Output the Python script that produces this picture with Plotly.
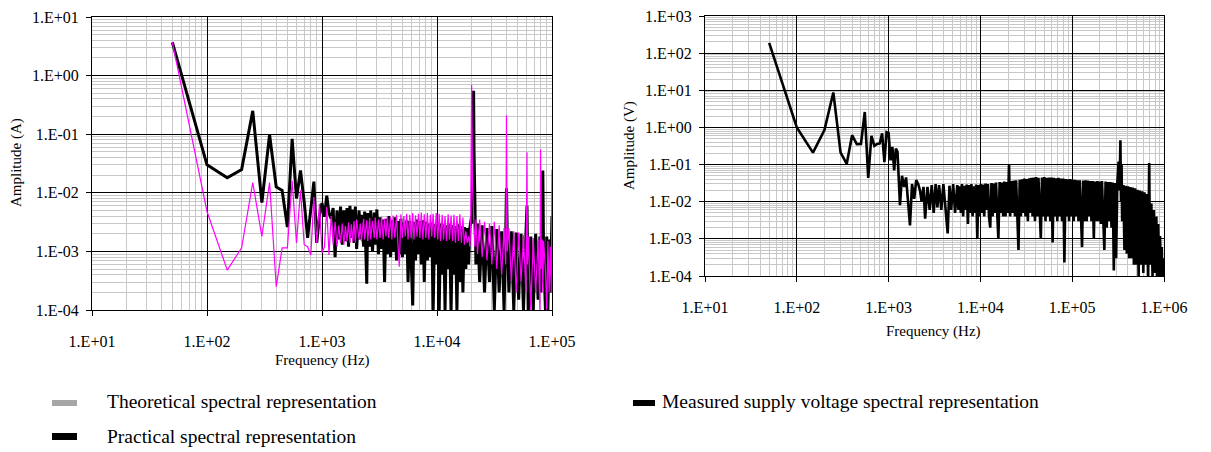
import plotly.graph_objects as go

# ---------------- data ----------------
# low-frequency harmonics (Hz), shared by both charts
low_freq = [50, 100, 150, 200, 250, 300, 350, 400, 450, 500,
            550, 600, 650, 700, 750, 800, 850, 900, 950, 1000,
            1050, 1100, 1150, 1200]

practical_low = [3.7, 0.030, 0.018, 0.025, 0.25, 0.0068, 0.098, 0.0126, 0.011, 0.0026,
                 0.083, 0.008, 0.024, 0.007, 0.0017, 0.006, 0.0155, 0.0014, 0.004, 0.0067,
                 0.0039, 0.0089, 0.0045, 0.0036]

theoretical_low = [3.7, 0.0048, 0.00048, 0.00115, 0.015, 0.0018, 0.015, 0.00025, 0.00115, 0.00115,
                   0.016, 0.0014, 0.011, 0.0013, 0.0012, 0.00087, 0.0085, 0.0014, 0.0065, 0.00095,
                   0.0012, 0.0058, 0.00087, 0.004]

measured_low = [190, 1.0, 0.21, 0.85, 8.7, 0.21, 0.105, 0.62, 0.355, 0.36,
                2.6, 0.044, 0.59, 0.32, 0.36, 0.37, 0.69, 0.117, 0.74, 0.7,
                0.13, 0.3, 0.07, 0.27]

# left chart, higher frequencies (Hz)
left_hi_freq = [1250, 1300, 1350, 1400, 1450, 1500, 1550, 1600, 1650, 1700,
                1750, 1800, 1850, 1900, 1950, 2000, 2100, 2150, 2200, 2300,
                2350, 2450, 2500, 2600, 2650, 2750, 2850, 2900, 3000, 3100,
                3200, 3300, 3400, 3500, 3600, 3700, 3800, 3950, 4050, 4150,
                4300, 4450, 4550, 4700, 4850, 5000, 5150, 5300, 5450, 5600,
                5800, 5950, 6150, 6300, 6500, 6700, 6900, 7100, 7300, 7550,
                7750, 8000, 8250, 8500, 8750, 9000, 9250, 9550, 9850, 10150,
                10450, 10750, 11100, 11400, 11750, 12100, 12500, 12850, 13250, 13650,
                14050, 14450, 14900, 15350, 15800, 16300, 16800, 17300, 17800, 18300,
                18850, 19300, 19600, 20000, 20400, 20800, 21000, 21300, 21800, 22500,
                23500, 24700, 25900, 27200, 28600, 30000, 31500, 33100, 34700, 36500,
                38300, 39600, 40200, 40800, 42200, 44300, 46500, 48800, 51300, 53800,
                56500, 59300, 60600, 61200, 62300, 65400, 68700, 72100, 75700, 78500,
                79500, 80500, 82300, 83200, 84500, 87700, 90000, 92100, 94500, 96700,
                98500, 100000]

practical_hi = [0.0055, 0.0008, 0.005, 0.0016, 0.0058, 0.0013, 0.005, 0.0015, 0.0055, 0.0012,
                0.006, 0.0017, 0.0052, 0.0014, 0.0058, 0.0011, 0.005, 0.0016, 0.0042, 0.0012,
                0.0048, 0.00028, 0.0045, 0.0012, 0.005, 0.001, 0.0046, 0.0013, 0.0052, 0.0009,
                0.0038, 0.0011, 0.0035, 0.0003, 0.0036, 0.0009, 0.004, 0.0008, 0.0034, 0.001,
                0.0038, 0.0007, 0.0033, 0.0009, 0.0036, 0.0008, 0.0031, 0.0009, 0.0034, 0.0003,
                0.0033, 0.0008, 0.00012, 0.0032, 0.0007, 0.0035, 0.0009, 0.0033, 0.0006, 0.0034,
                0.0003, 0.0032, 0.0007, 0.003, 0.0008, 0.0031, 0.00009, 0.0029, 0.0006, 0.0031,
                0.0001, 0.003, 0.0004, 0.0029, 0.0001, 0.0028, 0.0005, 0.003, 0.00009, 0.0028,
                0.0004, 0.0027, 0.0001, 0.0029, 0.0003, 0.0027, 0.0002, 0.0026, 0.0005, 0.0025,
                0.0006, 0.0025, 0.003, 0.004, 0.003, 0.55, 0.05, 0.004, 0.0006, 0.003,
                0.0003, 0.0028, 0.0002, 0.0025, 0.0003, 0.0027, 0.0001, 0.0024, 0.0002, 0.0022,
                0.0001, 0.002, 0.012, 0.002, 0.0002, 0.0022, 0.0001, 0.0021, 0.00015, 0.002,
                0.0001, 0.0019, 0.006, 0.0012, 0.0001, 0.0018, 0.0001, 0.002, 0.00015, 0.0018,
                0.0002, 0.0015, 0.0003, 0.024, 0.0009, 0.0001, 0.0018, 0.0001, 0.0016, 0.0002,
                0.0015, 0.004]

theoretical_hi = [0.0013, 0.0032, 0.0012, 0.0028, 0.0014, 0.003, 0.0013, 0.0027, 0.0015, 0.0031,
                  0.0014, 0.0029, 0.0015, 0.0033, 0.0014, 0.0035, 0.0016, 0.003, 0.0015, 0.0036,
                  0.0016, 0.0034, 0.0015, 0.0037, 0.0016, 0.0033, 0.0017, 0.0038, 0.0016, 0.0035,
                  0.0017, 0.0039, 0.0016, 0.0036, 0.0018, 0.004, 0.0017, 0.0038, 0.0016, 0.0041,
                  0.0017, 0.0042, 0.0016, 0.00055, 0.0043, 0.0017, 0.004, 0.0018, 0.0044, 0.0016,
                  0.0042, 0.0017, 0.0045, 0.0016, 0.0041, 0.0018, 0.0044, 0.0017, 0.0046, 0.0016,
                  0.0043, 0.0017, 0.0045, 0.0016, 0.0042, 0.0018, 0.0044, 0.0017, 0.0045, 0.0016,
                  0.0044, 0.0015, 0.0042, 0.0016, 0.004, 0.0015, 0.0043, 0.0016, 0.0041, 0.0015,
                  0.0042, 0.0014, 0.004, 0.0015, 0.0043, 0.0014, 0.0038, 0.0013, 0.0022, 0.0014,
                  0.0018, 0.0012, 0.0025, 0.70, 0.012, 0.004, 0.0035, 0.0012, 0.0035, 0.0009,
                  0.0035, 0.0008, 0.0032, 0.0007, 0.003, 0.0006, 0.0032, 0.0005, 0.0028, 0.0004,
                  0.0025, 0.0006, 0.21, 0.001, 0.0025, 0.0003, 0.0022, 0.0002, 0.0021, 0.0003,
                  0.0019, 0.0002, 0.049, 0.0006, 0.0018, 0.0001, 0.0017, 0.0002, 0.0016, 0.0001,
                  0.055, 0.0005, 0.0016, 0.0002, 0.0015, 0.0005, 0.0001, 0.0015, 0.0002, 0.0012,
                  0.0002, 0.025]

# right chart, higher frequencies (Hz)
right_hi_freq = [1250, 1330, 1400, 1480, 1550, 1620, 1710, 1800, 1900, 2000,
                 2100, 2200, 2290, 2400, 2500, 2650, 2800, 2950, 3100, 3250,
                 3400, 3550, 3750, 3950, 4150, 4400, 4600, 4800, 5050, 5300,
                 5600, 5770, 5940, 6120, 6300, 6490, 6690, 6890, 7090, 7310,
                 7530, 7750, 7980, 8220, 8470, 8720, 8980, 9250, 9530, 9820,
                 10100, 10400, 10700, 11000, 11400, 11700, 12100, 12400, 12800, 13200,
                 13600, 14000, 14400, 14800, 15300, 15700, 16200, 16700, 17200, 17700,
                 18200, 18800, 19300, 19900, 20500, 21100, 21700, 22400, 23100, 23800,
                 24500, 25200, 26000, 26800, 27600, 28400, 29200, 30100, 31000, 31900,
                 32900, 33900, 34900, 35900, 37000, 38100, 39300, 40400, 41700, 42900,
                 44200, 45500, 46900, 48300, 49700, 51200, 52800, 54400, 56000, 57700,
                 59400, 61200, 63000, 64900, 66800, 68800, 70900, 73000, 75200, 77500,
                 79800, 82200, 84700, 87200, 89800, 92500, 95300, 98200, 101000, 104000,
                 107000, 110000, 114000, 117000, 121000, 124000, 128000, 132000, 136000, 140000,
                 144000, 148000, 153000, 157000, 162000, 167000, 172000, 177000, 182000, 188000,
                 193000, 199000, 205000, 211000, 218000, 224000, 231000, 238000, 245000, 252000,
                 260000, 268000, 276000, 284000, 293000, 301000, 310000, 320000, 325000, 330000,
                 335000, 340000, 345000, 350000, 360000, 371000, 382000, 393000, 405000, 417000,
                 430000, 443000, 456000, 470000, 484000, 498000, 513000, 529000, 545000, 561000,
                 578000, 595000, 613000, 631000, 650000, 670000, 690000, 705000, 728000, 750000,
                 775000, 802000, 825000, 842000, 865000, 884000, 905000, 928000, 945000, 960000,
                 975000, 990000, 1000000]

measured_hi = [0.22, 0.0081, 0.05, 0.025, 0.045, 0.012, 0.0023, 0.03, 0.012, 0.038,
               0.03, 0.02, 0.01, 0.025, 0.0035, 0.025, 0.006, 0.028, 0.005, 0.03,
               0.007, 0.028, 0.006, 0.03, 0.008, 0.0014, 0.027, 0.006, 0.03, 0.005,
               0.028, 0.006, 0.026, 0.005, 0.03, 0.004, 0.027, 0.006, 0.029, 0.0025,
               0.028, 0.005, 0.03, 0.004, 0.026, 0.005, 0.029, 0.001, 0.028, 0.004,
               0.03, 0.005, 0.029, 0.004, 0.031, 0.006, 0.03, 0.004, 0.002, 0.032,
               0.004, 0.031, 0.005, 0.033, 0.004, 0.001, 0.034, 0.005, 0.033, 0.004,
               0.035, 0.004, 0.034, 0.005, 0.1, 0.004, 0.036, 0.005, 0.037, 0.004,
               0.038, 0.003, 0.0005, 0.039, 0.004, 0.04, 0.005, 0.042, 0.004, 0.041,
               0.003, 0.043, 0.005, 0.044, 0.004, 0.045, 0.003, 0.046, 0.004, 0.044,
               0.003, 0.001, 0.045, 0.004, 0.046, 0.003, 0.044, 0.004, 0.045, 0.003,
               0.045, 0.0008, 0.044, 0.004, 0.043, 0.003, 0.044, 0.004, 0.042, 0.003,
               0.042, 0.00023, 0.041, 0.004, 0.04, 0.003, 0.041, 0.004, 0.039, 0.003,
               0.039, 0.004, 0.038, 0.003, 0.038, 0.004, 0.0006, 0.037, 0.003, 0.038,
               0.003, 0.037, 0.004, 0.036, 0.003, 0.036, 0.001, 0.035, 0.003, 0.036,
               0.003, 0.035, 0.0025, 0.036, 0.003, 0.0005, 0.035, 0.002, 0.034, 0.003,
               0.034, 0.002, 0.033, 0.00014, 0.032, 0.0003, 0.031, 0.12, 0.02, 0.05,
               0.45, 0.01, 0.1, 0.003, 0.028, 0.0005, 0.027, 0.0004, 0.026, 0.0003,
               0.025, 0.0003, 0.024, 0.0002, 0.023, 0.0002, 0.021, 0.0001, 0.02, 0.0002,
               0.019, 0.00012, 0.018, 0.0002, 0.016, 0.0001, 0.11, 0.0002, 0.009, 0.0001,
               0.006, 0.00012, 0.004, 0.0001, 0.0025, 0.0001, 0.0012, 0.00009, 0.0006, 0.0001,
               0.0003, 0.00009, 0.00012]

left_x_ticks = [10, 100, 1000, 10000, 100000]
left_x_labels = ["1.E+01", "1.E+02", "1.E+03", "1.E+04", "1.E+05"]
left_y_ticks = [1e-4, 1e-3, 1e-2, 1e-1, 1, 10]
left_y_labels = ["1.E-04", "1.E-03", "1.E-02", "1.E-01", "1.E+00", "1.E+01"]
right_x_ticks = [10, 100, 1000, 10000, 100000, 1000000]
right_x_labels = ["1.E+01", "1.E+02", "1.E+03", "1.E+04", "1.E+05", "1.E+06"]
right_y_ticks = [1e-4, 1e-3, 1e-2, 1e-1, 1, 10, 100, 1000]
right_y_labels = ["1.E-04", "1.E-03", "1.E-02", "1.E-01", "1.E+00", "1.E+01", "1.E+02", "1.E+03"]

legend_labels = ["Theoretical spectral representation",
                 "Practical spectral representation",
                 "Measured supply voltage spectral representation"]

# ---------------- figure ----------------
# the page body adds an 8 px offset; positions below are screen pixels
OFF = 8
W, H = 1211 - OFF, 452 - OFF
FONT = "Liberation Serif, Times New Roman, serif"


def px(x):
    return (x - OFF) / W


def py(y):
    return 1 - (y - OFF) / H


def minor_vals(a, b):
    return [m * 10 ** e for e in range(a, b) for m in range(2, 10)]


left_freq = low_freq + left_hi_freq
practical = practical_low + practical_hi
theoretical = theoretical_low + theoretical_hi
right_freq = low_freq + right_hi_freq
measured = measured_low + measured_hi

fig = go.Figure()
fig.add_trace(go.Scatter(x=left_freq, y=practical, mode="lines",
                         line=dict(color="black", width=3), xaxis="x", yaxis="y",
                         name=legend_labels[1], showlegend=False))
fig.add_trace(go.Scatter(x=left_freq, y=theoretical, mode="lines",
                         line=dict(color="#ff00ff", width=1.2), xaxis="x", yaxis="y",
                         name=legend_labels[0], showlegend=False))
fig.add_trace(go.Scatter(x=right_freq, y=measured, mode="lines",
                         line=dict(color="black", width=2.6), xaxis="x2", yaxis="y2",
                         name=legend_labels[2], showlegend=False))


def axis(domain, rng, tv, tt, mv, anchor, standoff):
    return dict(type="log", domain=domain, range=rng, anchor=anchor, automargin=False,
                tickmode="array", tickvals=tv, ticktext=tt,
                ticks="outside", ticklen=5, tickcolor="black", tickwidth=1,
                showline=True, linecolor="black", linewidth=1, mirror=True,
                showgrid=True, gridcolor="black", gridwidth=1,
                minor=dict(tickmode="array", tickvals=mv, showgrid=True,
                           gridcolor="#c8c8c8", gridwidth=1, ticks=""),
                tickfont=dict(family=FONT, size=16, color="black"),
                ticklabelstandoff=standoff, ticklabeloverflow="allow", zeroline=False)


fig.update_layout(
    width=W, height=H, margin=dict(l=0, r=0, t=0, b=0, pad=0), autosize=False,
    paper_bgcolor="white", plot_bgcolor="white", showlegend=False,
    xaxis=axis([px(92), px(552)], [1, 5], left_x_ticks, left_x_labels, minor_vals(1, 5), "y", 12),
    yaxis=axis([py(310), py(17)], [-4, 1], left_y_ticks, left_y_labels, minor_vals(-4, 1), "x", 4),
    xaxis2=axis([px(705), px(1164)], [1, 6], right_x_ticks, right_x_labels, minor_vals(1, 6), "y2", 12),
    yaxis2=axis([py(276), py(16)], [-4, 3], right_y_ticks, right_y_labels, minor_vals(-4, 3), "x2", 4),
)

title_font = dict(family=FONT, size=15, color="black")
ann = [
    dict(text="Amplitude (A)", x=px(16), y=py(163), textangle=-90),
    dict(text="Frequency (Hz)", x=px(322), y=py(360)),
    dict(text="Amplitude (V)", x=px(630), y=py(146), textangle=-90),
    dict(text="Frequency (Hz)", x=px(934), y=py(331)),
]
for a in ann:
    fig.add_annotation(xref="paper", yref="paper", showarrow=False,
                       xanchor="center", yanchor="middle", font=title_font, **a)

leg_font = dict(family=FONT, size=19.5, color="black")
for label, x, y in [(legend_labels[0], 105, 401), (legend_labels[1], 105, 436),
                    (legend_labels[2], 660, 401)]:
    fig.add_annotation(xref="paper", yref="paper", showarrow=False, text=label,
                       x=px(x), y=py(y), xanchor="left", yanchor="middle", font=leg_font)

for x0, x1, y0, y1, c in [(52, 77, 400, 406, "#a6a6a6"), (52, 77, 433, 440, "black"),
                          (633, 655, 400, 406, "black")]:
    fig.add_shape(type="rect", xref="paper", yref="paper", x0=px(x0), x1=px(x1),
                  y0=py(y1), y1=py(y0), fillcolor=c, line=dict(width=0))

fig.write_html("out.html")
